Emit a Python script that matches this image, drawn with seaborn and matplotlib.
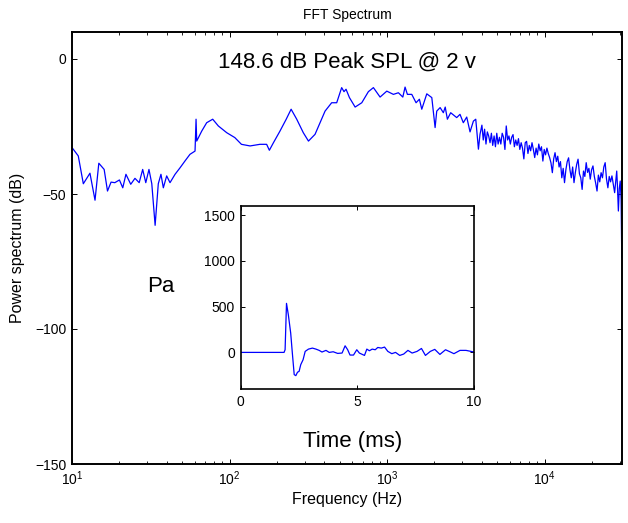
import matplotlib
matplotlib.use("Agg")
import matplotlib.pyplot as plt
import seaborn as sns
import pandas as pd
from matplotlib.ticker import LogLocator, NullFormatter

# ---------------- data ----------------
freq_low_hz = [10.0, 10.96, 11.8, 13.0, 14.0, 14.8, 16.0, 16.8, 17.7, 18.7, 20.0, 21.0,
               22.0, 23.6, 25.1, 26.7, 28.1, 29.4, 30.8, 32.1, 33.7, 35.3, 36.7, 38.0,
               39.9, 41.9, 45.1, 48.5, 52.1, 56.1, 60.4, 61.3, 61.9, 66.6, 71.6, 78.2,
               84.9, 96, 108, 119, 135, 156, 172, 179, 190, 209, 229, 246, 267, 294,
               317, 349, 404, 445, 479, 515, 533, 549, 577, 627, 691, 761, 819, 903,
               996, 1097, 1180, 1259, 1301, 1346, 1435, 1528, 1604, 1661, 1787, 1923,
               2018, 2067, 2172, 2277, 2340, 2415, 2535, 2767, 2904, 3048, 3204, 3363,
               3532, 3656, 3802, 3890]
power_low_db = [-32.8, -35.9, -46.2, -42.3, -52.3, -38.6, -40.9, -48.9, -45.6, -45.8, -44.8, -47.7,
                -42.7, -46.4, -44.2, -45.8, -40.9, -45.8, -40.9, -46.2, -61.6, -46.2, -42.7, -47.7,
                -43.3, -45.8, -42.7, -40.3, -37.8, -35.3, -34.1, -22.3, -30.4, -26.7, -23.6, -22.3,
                -24.8, -27.3, -29.1, -31.6, -32.2, -31.6, -31.6, -33.8, -31.0, -26.7, -22.3, -18.6,
                -22.3, -27.3, -30.4, -27.9, -19.3, -16.2, -16.2, -10.6, -12.1, -11.2, -14.3, -17.8,
                -16.2, -12.1, -10.6, -14.1, -11.9, -13.1, -12.5, -14.1, -10.4, -13.1, -13.1, -16.2,
                -14.9, -18.6, -12.9, -14.3, -25.4, -19.3, -18.0, -19.9, -17.8, -22.3, -19.9, -21.7,
                -20.5, -23.6, -21.5, -27.0, -23.0, -22.3, -33.4, -27.9]

freq_high_hz = [4000, 4080, 4160, 4245, 4330, 4415, 4505, 4595, 4685, 4780,
                4875, 4970, 5070, 5170, 5275, 5380, 5490, 5600, 5710, 5825,
                5940, 6060, 6180, 6305, 6430, 6560, 6690, 6825, 6960, 7100,
                7240, 7385, 7535, 7685, 7840, 7995, 8155, 8320, 8485, 8655,
                8830, 9005, 9185, 9370, 9555, 9750, 9945, 10140, 10345, 10550,
                10760, 10980, 11200, 11420, 11650, 11880, 12120, 12360, 12610, 12860,
                13120, 13380, 13650, 13920, 14200, 14480, 14770, 15070, 15370, 15680,
                15990, 16310, 16640, 16970, 17310, 17660, 18010, 18370, 18740, 19110,
                19490, 19880, 20280, 20690, 21100, 21520, 21950, 22390, 22840, 23300,
                23760, 24240, 24720, 25220, 25720, 26230, 26760, 27290, 27840, 28400,
                28700, 29000, 29400, 29800, 30200, 30600, 30900, 31000]
power_high_db = [-24.5, -30.0, -26.0, -31.5, -27.0, -28.5, -31.0, -27.5, -32.0, -28.5,
                 -32.5, -27.5, -31.5, -29.0, -31.5, -27.5, -29.0, -33.5, -24.8, -30.0,
                 -28.5, -31.5, -29.0, -28.0, -32.5, -30.0, -32.0, -29.5, -33.5, -31.0,
                 -33.0, -37.0, -31.0, -30.5, -35.0, -32.0, -34.0, -31.0, -33.5, -36.5,
                 -33.0, -35.5, -31.5, -34.0, -32.5, -37.8, -33.5, -35.5, -33.0, -35.0,
                 -36.5, -38.5, -42.1, -37.0, -34.7, -38.0, -36.0, -40.0, -38.0, -44.0,
                 -40.5, -45.8, -41.0, -38.0, -36.6, -41.0, -44.0, -40.0, -45.8, -42.0,
                 -39.0, -37.1, -42.5, -44.0, -48.3, -41.5, -43.5, -38.4, -42.0, -40.5,
                 -44.5, -41.0, -39.6, -43.5, -46.0, -48.9, -43.0, -45.5, -42.1, -44.0,
                 -40.0, -38.4, -44.5, -47.7, -43.5, -45.5, -43.3, -46.5, -49.5, -44.0,
                 -41.5, -47.0, -56.3, -48.0, -45.2, -52.0, -73.6, -45.0]

time_ms = [0.0, 1.865, 1.91, 1.97, 2.05, 2.15, 2.22, 2.30, 2.37, 2.44, 2.51, 2.58, 2.68,
           2.77, 2.91, 3.08, 3.23, 3.37, 3.49, 3.66, 3.80, 3.97, 4.16, 4.35, 4.48, 4.59,
           4.69, 4.84, 4.98, 5.09, 5.31, 5.41, 5.52, 5.64, 5.77, 5.88, 6.03, 6.17, 6.31,
           6.48, 6.64, 6.82, 6.99, 7.17, 7.35, 7.56, 7.75, 7.92, 8.13, 8.32, 8.54, 8.78,
           8.97, 9.14, 9.40, 9.66, 10.0]
pressure_pa = [0, 0, 29, 536, 409, 210, -7, -243, -254, -217, -207, -134, -80,
               11, 36, 47, 36, 22, 4, 22, 0, 7, -11, -7, 72, 29,
               -29, -29, 29, -7, -33, 36, 18, 36, 29, 54, 47, 58, 11,
               -14, 0, -33, -18, 22, -7, 11, 43, -33, 11, 33, -22, 29,
               7, -14, 22, 22, 4]

y_ticks_main = [0, -50, -100, -150]
y_ticks_inset = [0, 500, 1000, 1500]
x_ticks_inset = [0, 5, 10]

spec = pd.DataFrame({"freq": freq_low_hz + freq_high_hz,
                     "db": power_low_db + power_high_db})
wave = pd.DataFrame({"t": time_ms, "p": pressure_pa})

# ---------------- style ----------------
sns.set_style("ticks")
plt.rcParams["font.family"] = ["Liberation Sans", "DejaVu Sans"]
plt.rcParams["mathtext.default"] = "regular"
for key in ["text.color", "axes.labelcolor", "xtick.color", "ytick.color", "axes.edgecolor"]:
    plt.rcParams[key] = "black"

fig = plt.figure(figsize=(6.28, 5.23), dpi=100)
ax = fig.add_axes([72 / 628, 1 - 464 / 523, 550 / 628, 432 / 523])

sns.lineplot(data=spec, x="freq", y="db", ax=ax, color="#0000ff", linewidth=0.9,
             estimator=None, sort=False)
ax.set_xscale("log")
ax.set_xlim(10, 31000)
ax.set_ylim(-150, 10)
ax.set_yticks(y_ticks_main)
ax.xaxis.set_major_locator(LogLocator(base=10, numticks=10))
ax.xaxis.set_minor_locator(LogLocator(base=10, subs=range(2, 10), numticks=20))
ax.xaxis.set_minor_formatter(NullFormatter())
ax.tick_params(axis="both", which="major", direction="in", length=3.5, width=0.7,
               top=True, right=True, labelsize=10, pad=4, colors="black")
ax.tick_params(axis="both", which="minor", direction="in", length=2.5, width=0.6,
               top=True, right=True)
for s in ax.spines.values():
    s.set_linewidth(1.4)
    s.set_color("black")
ax.set_xlabel("Frequency (Hz)", fontsize=11.5, labelpad=3)
ax.set_ylabel("Power spectrum (dB)", fontsize=11.5, labelpad=7)
ax.set_title("FFT Spectrum", fontsize=10, pad=9)

ax.text(0.5, 0.93, "148.6 dB Peak SPL @ 2 v", transform=ax.transAxes,
        ha="center", va="center", fontsize=16)
ax.text(0.162, 0.41, "Pa", transform=ax.transAxes, ha="center", va="center", fontsize=16)
ax.text(0.51, 0.052, "Time (ms)", transform=ax.transAxes, ha="center", va="center",
        fontsize=16)

# ---------------- inset ----------------
ins = fig.add_axes([240.5 / 628, 1 - 389 / 523, 233.5 / 628, 183 / 523])
sns.lineplot(data=wave, x="t", y="p", ax=ins, color="#0000ff", linewidth=0.9,
             estimator=None, sort=False)
ins.set_xlim(0, 10)
ins.set_ylim(-400, 1600)
ins.set_xticks(x_ticks_inset)
ins.set_yticks(y_ticks_inset)
ins.set_xlabel("")
ins.set_ylabel("")
ins.tick_params(axis="both", direction="in", length=3, width=0.7, top=True, right=True,
                labelsize=10, pad=4, colors="black")
for s in ins.spines.values():
    s.set_linewidth(1.2)
    s.set_color("black")

fig.savefig("out.png", dpi=100)
